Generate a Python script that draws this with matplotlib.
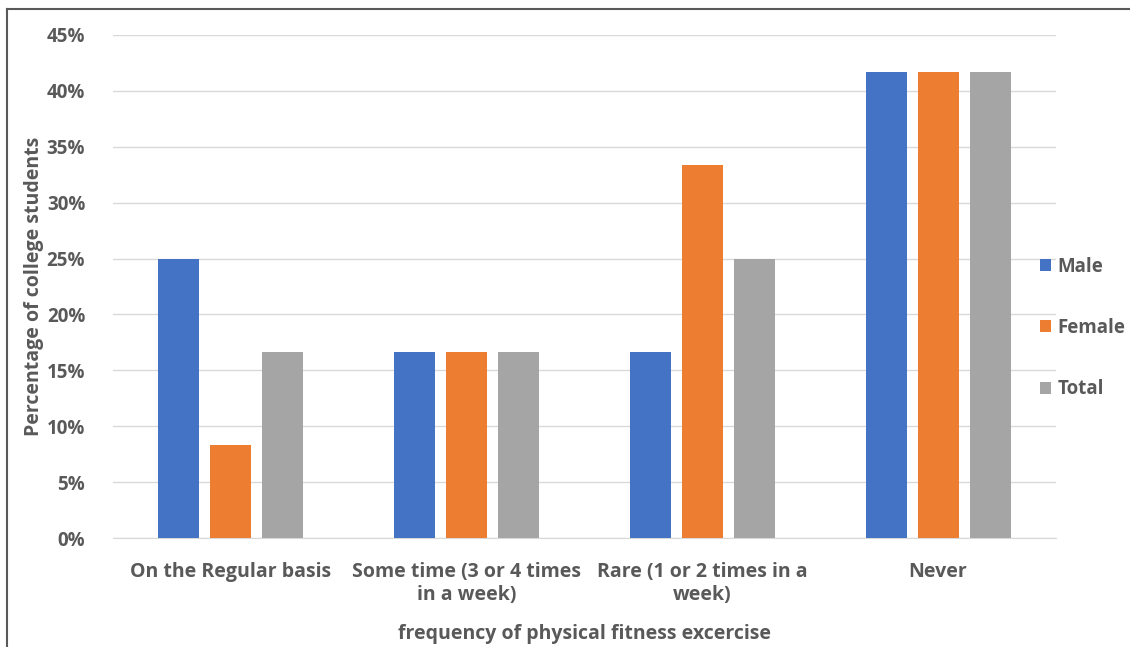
import matplotlib
matplotlib.use("Agg")
import matplotlib.pyplot as plt
import numpy as np
from matplotlib.patches import Patch
from matplotlib.lines import Line2D

categories = ["On the Regular basis", "Some time (3 or 4 times\nin a week)",
              "Rare (1 or 2 times in a\nweek)", "Never"]
series_names = ["Male", "Female", "Total"]
male = [25.0, 16.67, 16.67, 41.67]
female = [8.33, 16.67, 33.33, 41.67]
total = [16.67, 16.67, 25.0, 41.67]
colors = ["#4472C4", "#ED7D31", "#A5A5A5"]
yticks = [0, 5, 10, 15, 20, 25, 30, 35, 40, 45]

plt.rcParams['font.family'] = ['Open Sans', 'DejaVu Sans']
text_color = "#595959"
fs = 14

fig = plt.figure(figsize=(11.3, 6.47), dpi=100)
ax = fig.add_axes([113/1130, 1 - 538/647, (1056-113)/1130, (538-35)/647])

x = np.arange(len(categories))
width = 0.174
step = 0.221
for i, (vals, c) in enumerate(zip([male, female, total], colors)):
    ax.bar(x + (i - 1) * step, vals, width, color=c, label=series_names[i], zorder=3)

ax.set_xlim(-0.5, len(categories) - 0.5)
ax.set_ylim(0, 45)
ax.set_yticks(yticks)
ax.set_yticklabels([f"{v}%" for v in yticks], fontsize=13.5, fontweight='bold', color=text_color)
ax.set_xticks(x)
ax.set_xticklabels(categories, fontsize=fs, fontweight='bold', color=text_color, linespacing=1.2)
ax.tick_params(axis='both', length=0)
ax.tick_params(axis='y', pad=20)
ax.tick_params(axis='x', pad=17)
ax.grid(axis='y', color="#D9D9D9", linewidth=1, zorder=0)
for s in ['top', 'right', 'left']:
    ax.spines[s].set_visible(False)
ax.spines['bottom'].set_color("#D9D9D9")

ax.set_xlabel("frequency of physical fitness excercise", fontsize=fs, fontweight='bold',
              color=text_color, labelpad=14)
ax.set_ylabel("Percentage of college students", fontsize=fs, fontweight='bold',
              color=text_color, labelpad=2)

handles = [Patch(facecolor=c, edgecolor='none') for c in colors]
leg = fig.legend(handles, series_names, loc='center left', bbox_to_anchor=(1023/1130, 1 - 328/647),
                 frameon=False, handlelength=0.6, handleheight=0.6,
                 handletextpad=0.35, labelspacing=2.2, prop={'weight': 'bold', 'size': 13.5})
for t in leg.get_texts():
    t.set_color(text_color)

# chart frame (top and left edges)
fig.add_artist(Line2D([7/1130, 1], [1 - 9/647, 1 - 9/647], color="#595959", linewidth=1.5,
                      transform=fig.transFigure))
fig.add_artist(Line2D([7/1130, 7/1130], [0, 1 - 9/647], color="#595959", linewidth=1.5,
                      transform=fig.transFigure))

fig.savefig("out.png", dpi=100)
